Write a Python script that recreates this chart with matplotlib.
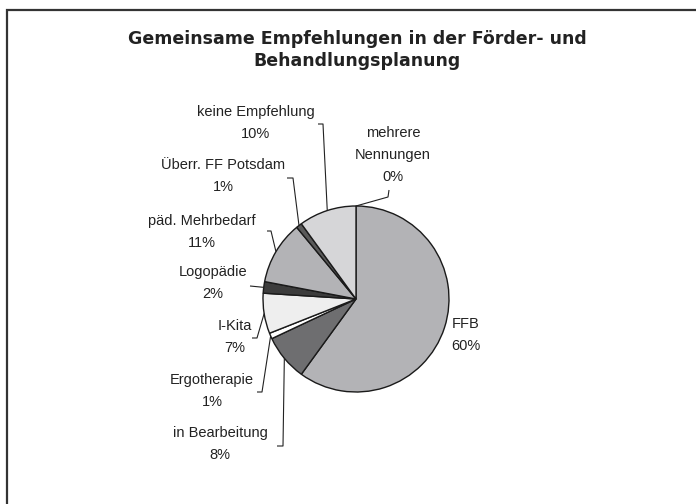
import numpy as np
import matplotlib
matplotlib.use("Agg")
import matplotlib.pyplot as plt
from matplotlib.patches import Rectangle

plt.rcParams['font.family'] = ['Liberation Sans', 'DejaVu Sans']

# data, clockwise from 12 o'clock
labels = ["mehrere\nNennungen", "FFB", "in Bearbeitung", "Ergotherapie", "I-Kita",
          "Logopädie", "päd. Mehrbedarf", "Überr. FF Potsdam", "keine Empfehlung"]
values = [0, 60, 8, 1, 7, 2, 11, 1, 10]
colors = ["#d6d6d8", "#b3b3b6", "#6e6e70", "#ffffff", "#eeeeee",
          "#3c3c3c", "#b3b3b6", "#5a5a5a", "#d6d6d8"]

W, H = 696, 504
cx, cy, r = 356, H - 299, 93

fig = plt.figure(figsize=(W / 100, H / 100), dpi=100)
ax = fig.add_axes([0, 0, 1, 1])

ax.pie(values, colors=colors, startangle=90, counterclock=False,
       center=(cx, cy), radius=r,
       wedgeprops=dict(edgecolor="#1a1a1a", linewidth=1.0))
ax.set_xlim(0, W)
ax.set_ylim(0, H)
ax.set_aspect("equal")
ax.axis("off")

# outer frame (only top and left visible)
ax.add_patch(Rectangle((7, -20), W + 40, H - 10 + 20, fill=False,
                       edgecolor="#333333", linewidth=1.6, clip_on=False))

fig.text(357 / W, 1 - 50 / H,
         "Gemeinsame Empfehlungen in der Förder- und\nBehandlungsplanung",
         ha="center", va="center", fontsize=12.5, fontweight="bold",
         family="DejaVu Sans", color="#222222", linespacing=1.25)

# label layout: text centre (px), elbow point, end of horizontal tick
layout = {
    "mehrere\nNennungen": ((393, 155), (388, 197), (389, 190)),
    "FFB": ((466, 335), None, None),
    "in Bearbeitung": ((220, 444), (283, 446), (277, 446)),
    "Ergotherapie": ((212, 391), (262, 392), (257, 392)),
    "I-Kita": ((235, 337), (257, 338), (252, 338)),
    "Logopädie": ((213, 283), (250, 286), (250, 286)),
    "päd. Mehrbedarf": ((202, 232), (271, 231), (267, 231)),
    "Überr. FF Potsdam": ((223, 176), (293, 178), (287, 178)),
    "keine Empfehlung": ((256, 123), (323, 124), (318, 124)),
}

total = sum(values)
cum = 0
for lab, v in zip(labels, values):
    mid = (cum + v / 2) / total
    cum += v
    ang = np.deg2rad(90 - 360 * mid)
    ex, ey = cx + r * np.cos(ang), cy + r * np.sin(ang)
    (tx, ty), elbow, tick = layout[lab]
    txt = f"{lab}\n{round(100 * v / total)}%"
    ax.text(tx, H - ty, txt, ha="center", va="center", fontsize=10.5,
            color="#222222", linespacing=1.7)
    if elbow is not None:
        xs = [ex, elbow[0], tick[0]]
        ys = [ey, H - elbow[1], H - tick[1]]
        ax.plot(xs, ys, color="#222222", linewidth=0.8, solid_capstyle="butt")

fig.savefig("out.png", dpi=100)
